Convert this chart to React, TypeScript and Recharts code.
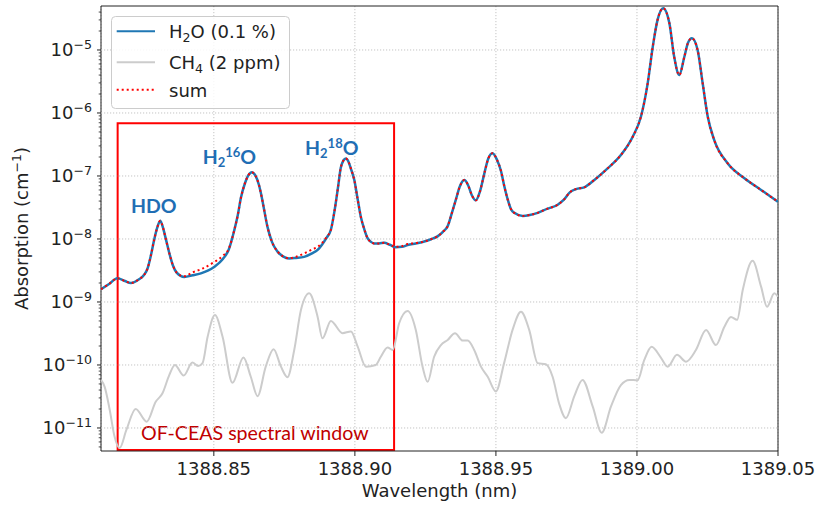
import React from "react";
import {
  LineChart,
  Line,
  XAxis,
  YAxis,
  CartesianGrid,
  ReferenceLine,
  ReferenceArea,
  ReferenceDot,
  Legend,
} from "recharts";

// ---------- data ----------
const wavelengthH2O = [
  1388.81, 1388.813, 1388.8158, 1388.8185, 1388.8206, 1388.8235, 1388.8253, 1388.8265,
  1388.8277, 1388.8288, 1388.8299, 1388.831, 1388.832, 1388.8331, 1388.8342, 1388.8355,
  1388.8369, 1388.8395, 1388.8425, 1388.8454, 1388.8501, 1388.8532, 1388.8553, 1388.8572,
  1388.8585, 1388.8596, 1388.861, 1388.8622, 1388.8635, 1388.8647, 1388.866, 1388.8667,
  1388.8674, 1388.869, 1388.8706, 1388.8726, 1388.8745, 1388.8767, 1388.8791, 1388.882,
  1388.8848, 1388.8868, 1388.8884, 1388.89, 1388.8915, 1388.8929, 1388.894, 1388.895,
  1388.8959, 1388.8968, 1388.8977, 1388.8986, 1388.8998, 1388.9009, 1388.9021, 1388.9034,
  1388.9045, 1388.9057, 1388.9068, 1388.9085, 1388.9104, 1388.9124, 1388.9145, 1388.9167,
  1388.9187, 1388.9216, 1388.9246, 1388.927, 1388.9293, 1388.9312, 1388.9329, 1388.9344,
  1388.9358, 1388.9372, 1388.9388, 1388.9401, 1388.9415, 1388.9429, 1388.9443, 1388.9459,
  1388.9473, 1388.9488, 1388.9504, 1388.9518, 1388.953, 1388.9542, 1388.9553, 1388.9565,
  1388.9595, 1388.962, 1388.9648, 1388.9681, 1388.9719, 1388.9741, 1388.9762, 1388.9784,
  1388.9813, 1388.9849, 1388.9896, 1388.9943, 1388.9985, 1389.0014, 1389.0038, 1389.0056,
  1389.0073, 1389.0093, 1389.0115, 1389.0132, 1389.015, 1389.0168, 1389.0181, 1389.0195,
  1389.0215, 1389.0233, 1389.0251, 1389.0274, 1389.0322, 1389.0381, 1389.044, 1389.05,
];
const absorptionH2O = [
  1.6e-9, 1.95e-9, 2.38e-9, 2.15e-9, 2.0e-9, 2.3e-9, 2.7e-9, 3.4e-9,
  5.5e-9, 9.5e-9, 1.5e-8, 1.95e-8, 1.5e-8, 9.5e-9, 6.0e-9, 3.8e-9,
  2.9e-9, 2.5e-9, 2.65e-9, 2.85e-9, 3.6e-9, 4.8e-9, 6.8e-9, 1.35e-8,
  2.4e-8, 4.5e-8, 7.6e-8, 1.02e-7, 1.15e-7, 1.02e-7, 7.2e-8, 5.3e-8,
  3.7e-8, 1.57e-8, 9.0e-9, 6.3e-9, 5.3e-9, 4.9e-9, 5.0e-9, 5.2e-9,
  5.9e-9, 6.7e-9, 8.2e-9, 1.05e-8, 1.4e-8, 3.0e-8, 6.5e-8, 1.35e-7,
  1.75e-7, 1.9e-7, 1.7e-7, 1.3e-7, 8.6e-8, 4.5e-8, 2.26e-8, 1.4e-8,
  1.03e-8, 9.0e-9, 8.5e-9, 8.5e-9, 8.7e-9, 8.1e-9, 7.4e-9, 7.5e-9,
  8.0e-9, 8.5e-9, 9.1e-9, 9.9e-9, 1.1e-8, 1.3e-8, 1.6e-8, 2.6e-8,
  4.2e-8, 6.8e-8, 8.6e-8, 7.2e-8, 4.9e-8, 4.1e-8, 5.6e-8, 1.1e-7,
  1.9e-7, 2.3e-7, 1.8e-7, 1.2e-7, 6.8e-8, 4.2e-8, 3.0e-8, 2.6e-8,
  2.32e-8, 2.4e-8, 2.6e-8, 3.0e-8, 3.5e-8, 4.2e-8, 5.5e-8, 6.2e-8,
  6.6e-8, 8.65e-8, 1.32e-7, 2.15e-7, 4.2e-7, 8.7e-7, 2.95e-6, 1.12e-5,
  3.0e-5, 4.6e-5, 2.65e-5, 7.8e-6, 4.0e-6, 7.8e-6, 1.3e-5, 1.53e-5,
  1.0e-5, 2.95e-6, 8.7e-7, 3.7e-7, 1.58e-7, 9.2e-8, 6.0e-8, 3.9e-8,
];
const absorptionSum = [
  1.6e-9, 1.95e-9, 2.38e-9, 2.15e-9, 2.0e-9, 2.3e-9, 2.7e-9, 3.4e-9,
  5.5e-9, 9.5e-9, 1.5e-8, 1.95e-8, 1.5e-8, 9.5e-9, 6.0e-9, 3.8e-9,
  2.9e-9, 2.55e-9, 2.95e-9, 3.3e-9, 4.3e-9, 5.4e-9, 7.0e-9, 1.35e-8,
  2.4e-8, 4.5e-8, 7.6e-8, 1.02e-7, 1.15e-7, 1.02e-7, 7.2e-8, 5.3e-8,
  3.7e-8, 1.57e-8, 9.0e-9, 6.3e-9, 5.3e-9, 4.95e-9, 5.2e-9, 5.9e-9,
  6.8e-9, 7.5e-9, 8.7e-9, 1.08e-8, 1.4e-8, 3.0e-8, 6.5e-8, 1.35e-7,
  1.75e-7, 1.9e-7, 1.7e-7, 1.3e-7, 8.6e-8, 4.5e-8, 2.26e-8, 1.4e-8,
  1.03e-8, 9.0e-9, 8.5e-9, 8.5e-9, 8.7e-9, 8.1e-9, 7.5e-9, 7.7e-9,
  8.3e-9, 8.6e-9, 9.1e-9, 9.9e-9, 1.1e-8, 1.3e-8, 1.6e-8, 2.6e-8,
  4.2e-8, 6.8e-8, 8.6e-8, 7.2e-8, 4.9e-8, 4.1e-8, 5.6e-8, 1.1e-7,
  1.9e-7, 2.3e-7, 1.8e-7, 1.2e-7, 6.8e-8, 4.2e-8, 3.0e-8, 2.6e-8,
  2.32e-8, 2.4e-8, 2.6e-8, 3.0e-8, 3.5e-8, 4.2e-8, 5.5e-8, 6.2e-8,
  6.6e-8, 8.65e-8, 1.32e-7, 2.15e-7, 4.2e-7, 8.7e-7, 2.95e-6, 1.12e-5,
  3.0e-5, 4.6e-5, 2.65e-5, 7.8e-6, 4.0e-6, 7.8e-6, 1.3e-5, 1.53e-5,
  1.0e-5, 2.95e-6, 8.7e-7, 3.7e-7, 1.58e-7, 9.2e-8, 6.0e-8, 3.9e-8,
];

const wavelengthCH4 = [
  1388.81, 1388.8113, 1388.8131, 1388.8148, 1388.8166, 1388.819, 1388.8223, 1388.8262,
  1388.8294, 1388.8318, 1388.8342, 1388.8362, 1388.8393, 1388.8424, 1388.8444, 1388.846,
  1388.8478, 1388.8504, 1388.8531, 1388.8566, 1388.8605, 1388.8631, 1388.8655, 1388.8684,
  1388.8712, 1388.8738, 1388.8761, 1388.8785, 1388.8809, 1388.8838, 1388.8868, 1388.8885,
  1388.8915, 1388.8956, 1388.8986, 1388.901, 1388.9039, 1388.9074, 1388.9092, 1388.9116,
  1388.9134, 1388.9157, 1388.9187, 1388.9216, 1388.924, 1388.9258, 1388.9281, 1388.9305,
  1388.9329, 1388.9355, 1388.9382, 1388.94, 1388.9423, 1388.9447, 1388.9471, 1388.95,
  1388.9529, 1388.9559, 1388.9589, 1388.9618, 1388.9648, 1388.9677, 1388.9701, 1388.9724,
  1388.9748, 1388.9778, 1388.9807, 1388.9843, 1388.9875, 1388.9908, 1388.9943, 1388.9973,
  1389.0002, 1389.0026, 1389.0052, 1389.0083, 1389.0109, 1389.0142, 1389.0174, 1389.0209,
  1389.0245, 1389.028, 1389.031, 1389.0333, 1389.0355, 1389.0375, 1389.041, 1389.044,
  1389.0461, 1389.0487, 1389.05,
];
const absorptionCH4 = [
  5.8e-11, 4.5e-11, 1.93e-11, 7.3e-12, 4.8e-12, 9.3e-12, 2.0e-11, 1.26e-11,
  2.6e-11, 3.55e-11, 6.9e-11, 1.0e-10, 6.8e-11, 1.09e-10, 9.6e-11, 1.07e-10,
  2.8e-10, 6.2e-10, 2.8e-10, 5.2e-11, 1.32e-10, 6.5e-11, 3.2e-11, 9.4e-11,
  1.78e-10, 9.4e-11, 6.4e-11, 1.73e-10, 7.5e-10, 1.37e-9, 5.8e-10, 2.65e-10,
  5.0e-10, 3.2e-10, 3.4e-10, 1.95e-10, 9.4e-11, 1.0e-10, 1.35e-10, 1.9e-10,
  1.73e-10, 4.6e-10, 7.2e-10, 3.6e-10, 9.4e-11, 5.4e-11, 1.35e-10, 2.07e-10,
  2.5e-10, 3.2e-10, 2.44e-10, 2.44e-10, 1.73e-10, 9.4e-11, 6.5e-11, 3.8e-11,
  1.07e-10, 3.6e-10, 7.0e-10, 3.6e-10, 1.07e-10, 1.03e-10, 6.5e-11, 2.45e-11,
  1.43e-11, 3.2e-11, 5.8e-11, 2.2e-11, 8.4e-12, 2.2e-11, 4.8e-11, 5.8e-11,
  5.7e-11, 1.2e-10, 1.95e-10, 1.35e-10, 9.4e-11, 1.45e-10, 1.13e-10, 1.73e-10,
  3.6e-10, 2.07e-10, 4.05e-10, 5.8e-10, 5.2e-10, 1.55e-9, 4.5e-9, 1.75e-9,
  8.4e-10, 1.37e-9, 1.21e-9,
];

const xTicks = [1388.85, 1388.9, 1388.95, 1389.0, 1389.05];
const yMajorExponents = [-11, -10, -9, -8, -7, -6, -5];
const yMinorMultipliers = [2, 3, 4, 5, 6, 7, 8, 9];

const xDomain: [number, number] = [1388.81, 1389.05];
const yDomain: [number, number] = [4.31e-12, 4.99e-5];

const windowX: [number, number] = [1388.8159, 1388.9139];
const windowY: [number, number] = [4.48e-12, 6.9e-7];

const annotations = [
  { name: "HDO", x: 1388.8287, y: 2.56e-8 },
  { name: "H216O", x: 1388.8555, y: 1.55e-7 },
  { name: "H218O", x: 1388.8918, y: 2.15e-7 },
];

// ---------- derived tables ----------
const h2oData = wavelengthH2O.map((x, i) => ({
  x,
  h2o: absorptionH2O[i],
  sum: absorptionSum[i],
}));
const ch4Data = wavelengthCH4.map((x, i) => ({ x, ch4: absorptionCH4[i] }));

const yMajorTicks = yMajorExponents.map((e) => parseFloat(`1e${e}`));
const yAllTicks: number[] = [];
for (let e = -12; e <= -5; e++) {
  for (const k of [1, ...yMinorMultipliers]) {
    const v = parseFloat(`${k}e${e}`);
    if (v >= yDomain[0] && v <= yDomain[1]) yAllTicks.push(v);
  }
}

const FONT = "DejaVu Sans";
const AXIS = "#222222";
const BLUE = "#1f77b4";
const ANN_BLUE = "#1f6eb4";

const XTick = (props: any) => {
  const { x, y, payload } = props;
  return (
    <g>
      <line x1={x} y1={y} x2={x} y2={y + 5} stroke={AXIS} strokeWidth={1} />
      <text x={x} y={y + 24} textAnchor="middle" fontFamily={FONT} fontSize={18} fill="#222">
        {Number(payload.value).toFixed(2)}
      </text>
    </g>
  );
};

const YTick = (props: any) => {
  const { x, y, payload } = props;
  const v = Number(payload.value);
  const lg = Math.log10(v);
  const exp = Math.round(lg);
  const major = Math.abs(lg - exp) < 1e-6;
  if (!major) {
    return <line x1={x - 2.3} y1={y} x2={x} y2={y} stroke={AXIS} strokeWidth={0.8} />;
  }
  return (
    <g>
      <line x1={x - 4} y1={y} x2={x} y2={y} stroke={AXIS} strokeWidth={1} />
      <text x={x - 9} y={y + 6.5} textAnchor="end" fontFamily={FONT} fontSize={18} fill="#222">
        10
        <tspan fontSize={12.6} dy={-7}>
          {"\u2212" + Math.abs(exp)}
        </tspan>
      </text>
    </g>
  );
};

const annotationContent = (name: string) => (props: any) => {
  const vb = props.viewBox || {};
  const cx = vb.x + (vb.width || 0) / 2;
  const cy = vb.y + (vb.height || 0) / 2;
  const common = {
    x: cx,
    y: cy,
    textAnchor: "middle" as const,
    fontFamily: "Lato",
    fontWeight: 700,
    fontSize: 19.5,
    fill: ANN_BLUE,
  };
  if (name === "HDO") return <text {...common}>HDO</text>;
  const iso = name === "H216O" ? "16" : "18";
  return (
    <text {...common}>
      H
      <tspan fontSize={13} dy={3}>
        2
      </tspan>
      <tspan fontSize={13} dy={-10}>
        {iso}
      </tspan>
      <tspan dy={7}>O</tspan>
    </text>
  );
};

const windowLabel = (props: any) => {
  const vb = props.viewBox || {};
  return (
    <text
      x={vb.x + vb.width / 2 - 1}
      y={vb.y + vb.height - 10}
      textAnchor="middle"
      fontFamily="Lato"
      fontSize={19.6}
      fill="#c00000"
    >
      OF-CEAS spectral window
    </text>
  );
};

const yLabel = (props: any) => {
  const vb = props.viewBox || {};
  const x = vb.x + 28;
  const y = vb.y + vb.height / 2;
  return (
    <text
      x={x}
      y={y}
      transform={`rotate(-90, ${x}, ${y})`}
      textAnchor="middle"
      fontFamily={FONT}
      fontSize={18}
      fill="#222"
    >
      Absorption (cm
      <tspan fontSize={12.6} dy={-7}>
        {"\u22121"}
      </tspan>
      <tspan dy={7}>)</tspan>
    </text>
  );
};

const xLabel = (props: any) => {
  const vb = props.viewBox || {};
  return (
    <text
      x={vb.x + vb.width / 2}
      y={497}
      textAnchor="middle"
      fontFamily={FONT}
      fontSize={18}
      fill="#222"
    >
      Wavelength (nm)
    </text>
  );
};

const legendItems = [
  { key: "h2o", color: BLUE, dash: undefined as string | undefined, lineY: 15.3, textY: 22 },
  { key: "ch4", color: "#cccccc", dash: undefined as string | undefined, lineY: 46.3, textY: 53 },
  { key: "sum", color: "#ff0000", dash: "2 3", lineY: 73.7, textY: 81.3 },
];

const LegendBox = () => (
  <svg width={180} height={94} style={{ display: "block" }}>
    <rect x={0.5} y={0.5} width={178} height={92} rx={4} fill="#ffffff" fillOpacity={0.85} stroke="#cccccc" />
    {legendItems.map((it) => (
      <g key={it.key}>
        <line
          x1={5.7}
          x2={44}
          y1={it.lineY}
          y2={it.lineY}
          stroke={it.color}
          strokeWidth={2}
          strokeDasharray={it.dash}
        />
        <text x={58} y={it.textY} fontFamily={FONT} fontSize={18} fill="#222">
          {it.key === "h2o" && (
            <>
              H<tspan fontSize={12.6} dy={3.5}>2</tspan>
              <tspan dy={-3.5}>O (0.1 %)</tspan>
            </>
          )}
          {it.key === "ch4" && (
            <>
              CH<tspan fontSize={12.6} dy={3.5}>4</tspan>
              <tspan dy={-3.5}> (2 ppm)</tspan>
            </>
          )}
          {it.key === "sum" && "sum"}
        </text>
      </g>
    ))}
  </svg>
);

export default function App() {
  return (
    <div style={{ position: "absolute", left: 0, top: 0, width: 815, height: 506, background: "#fff" }}>
      <LineChart width={815} height={506} margin={{ top: 6, right: 37, bottom: 0, left: 0 }}>
        <CartesianGrid horizontal={false} vertical={true} stroke="#c4c4c4" strokeDasharray="1.2 1.8" />
        {yMajorTicks.map((v) => (
          <ReferenceLine key={v} y={v} stroke="#c4c4c4" strokeDasharray="1.2 1.8" strokeWidth={1} />
        ))}
        <XAxis
          dataKey="x"
          type="number"
          domain={xDomain}
          allowDataOverflow
          ticks={xTicks}
          interval={0}
          height={55}
          tickSize={0}
          tickMargin={0}
          tickLine={false}
          axisLine={false}
          tick={<XTick />}
          label={{ content: xLabel }}
        />
        <YAxis
          type="number"
          scale="log"
          domain={yDomain}
          allowDataOverflow
          ticks={yAllTicks}
          interval={0}
          width={101}
          tickSize={0}
          tickMargin={0}
          tickLine={false}
          axisLine={false}
          tick={<YTick />}
          label={{ content: yLabel }}
        />
        <Line
          data={ch4Data}
          dataKey="ch4"
          type="monotone"
          stroke="#cccccc"
          strokeWidth={2}
          dot={false}
          isAnimationActive={false}
        />
        <Line
          data={h2oData}
          dataKey="h2o"
          type="monotone"
          stroke={BLUE}
          strokeWidth={2.5}
          dot={false}
          isAnimationActive={false}
        />
        <Line
          data={h2oData}
          dataKey="sum"
          type="monotone"
          stroke="#ff0000"
          strokeWidth={2}
          strokeDasharray="2 3"
          dot={false}
          isAnimationActive={false}
        />
        <ReferenceArea
          x1={windowX[0]}
          x2={windowX[1]}
          y1={windowY[0]}
          y2={windowY[1]}
          fill="none"
          fillOpacity={0}
          stroke="#ff0000"
          strokeWidth={2}
          ifOverflow="visible"
          label={{ content: windowLabel }}
        />
        <ReferenceArea
          x1={xDomain[0]}
          x2={xDomain[1]}
          y1={yDomain[0]}
          y2={yDomain[1]}
          fill="none"
          fillOpacity={0}
          stroke={AXIS}
          strokeWidth={1}
          ifOverflow="visible"
        />
        {annotations.map((a) => (
          <ReferenceDot
            key={a.name}
            x={a.x}
            y={a.y}
            r={0}
            fill="none"
            stroke="none"
            ifOverflow="visible"
            label={{ content: annotationContent(a.name) }}
          />
        ))}
        <Legend
          layout="vertical"
          align="center"
          verticalAlign="middle"
          wrapperStyle={{ left: 111, top: 16, width: 180, height: 94, margin: 0, padding: 0 }}
          content={() => <LegendBox />}
        />
      </LineChart>
    </div>
  );
}
